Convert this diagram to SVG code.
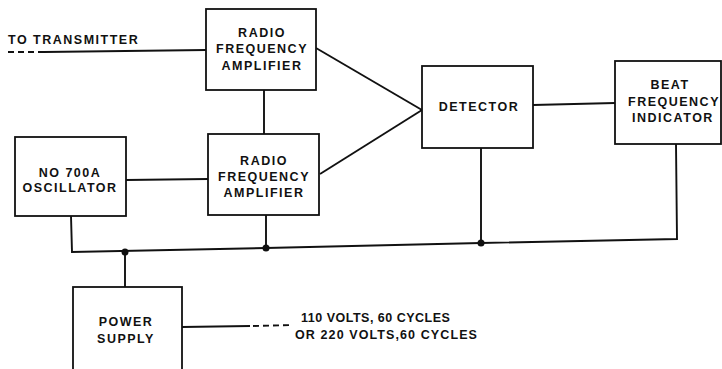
<svg xmlns="http://www.w3.org/2000/svg" width="722" height="369" viewBox="0 0 722 369">
<style>
.box{fill:#fff;stroke:#111;stroke-width:1.8}
.ln{fill:none;stroke:#111;stroke-width:1.9}
.dash{fill:none;stroke:#111;stroke-width:1.9;stroke-dasharray:6 4}
.t{font-family:"Liberation Sans",Arial,sans-serif;font-size:12.5px;font-weight:bold;letter-spacing:1.5px;fill:#111;text-anchor:middle}
.tl{text-anchor:start}
.dot{fill:#111}
</style>
<rect width="722" height="369" fill="#fff"/>
<g id="connectors">
<line class="dash" x1="8" y1="52" x2="44" y2="52"/>
<line class="ln" x1="44" y1="52" x2="206" y2="50"/>
<line class="ln" x1="264" y1="90" x2="264" y2="134"/>
<line class="ln" x1="316" y1="48" x2="422" y2="110"/>
<line class="ln" x1="320" y1="174" x2="422" y2="110"/>
<line class="ln" x1="533" y1="105" x2="615" y2="103"/>
<line class="ln" x1="126" y1="180" x2="208" y2="179"/>
<polyline class="ln" points="71,216 72,252 266,248 481,243 677,239 676,144"/>
<line class="ln" x1="266" y1="215" x2="266" y2="248"/>
<line class="ln" x1="481" y1="148" x2="481" y2="243"/>
<line class="ln" x1="125" y1="252" x2="125" y2="287"/>
<line class="ln" x1="182" y1="327" x2="250" y2="326"/>
<line class="dash" x1="253" y1="326" x2="292" y2="325"/>
<circle class="dot" cx="125" cy="252" r="3.5"/>
<circle class="dot" cx="266" cy="248" r="3.5"/>
<circle class="dot" cx="481" cy="243" r="3.5"/>
</g>
<g id="label-transmitter"><text class="t tl" x="8" y="44">TO TRANSMITTER</text></g>
<g id="rf-amp-1">
<rect class="box" x="206" y="9" width="110" height="81"/>
<text class="t" x="262" y="37">RADIO</text>
<text class="t" x="262" y="53">FREQUENCY</text>
<text class="t" x="262" y="70">AMPLIFIER</text>
</g>
<g id="rf-amp-2">
<rect class="box" x="208" y="134" width="111" height="81"/>
<text class="t" x="264" y="165">RADIO</text>
<text class="t" x="264" y="181">FREQUENCY</text>
<text class="t" x="264" y="197">AMPLIFIER</text>
</g>
<g id="oscillator">
<rect class="box" x="15" y="137" width="111" height="79"/>
<text class="t" x="70" y="177">NO 700A</text>
<text class="t" x="70" y="192">OSCILLATOR</text>
</g>
<g id="detector">
<rect class="box" x="422" y="66" width="111" height="82"/>
<text class="t" x="479" y="111">DETECTOR</text>
</g>
<g id="beat-frequency-indicator">
<rect class="box" x="615" y="61" width="106" height="83"/>
<text class="t" x="670" y="89">BEAT</text>
<text class="t" x="674" y="106">FREQUENCY</text>
<text class="t" x="673" y="122">INDICATOR</text>
</g>
<g id="power-supply">
<rect class="box" x="73" y="287" width="109" height="90"/>
<text class="t" x="126" y="326">POWER</text>
<text class="t" x="126" y="343">SUPPLY</text>
</g>
<g id="label-mains">
<text class="t tl" x="301" y="322" style="letter-spacing:0.5px">110 VOLTS, 60 CYCLES</text>
<text class="t tl" x="295" y="339" style="letter-spacing:1.1px">OR 220 VOLTS,60 CYCLES</text>
</g>
</svg>
